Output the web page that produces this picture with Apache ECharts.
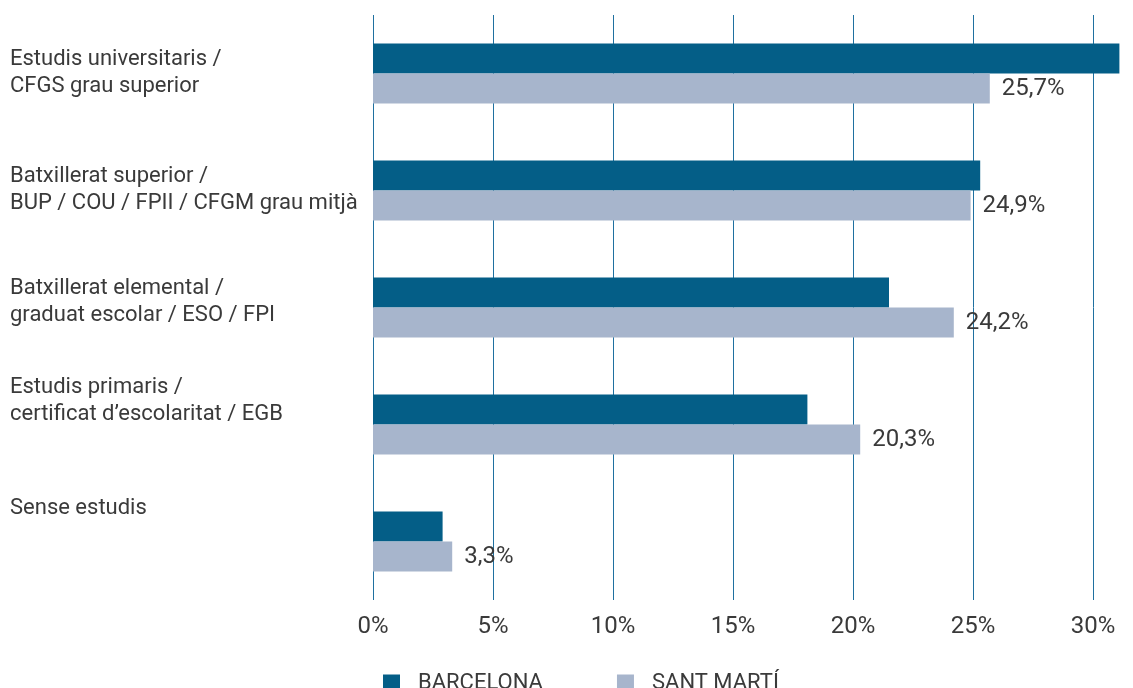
<!DOCTYPE html>
<html>
<head>
<meta charset="utf-8">
<script src="https://cdn.jsdelivr.net/npm/echarts@6/dist/echarts.min.js"></script>
<style>
  html, body { margin: 0; padding: 0; background: #fff; }
  #chart { width: 1133px; height: 688px; }
</style>
</head>
<body>
<div id="chart"></div>
<script>
const categories = [
  'Estudis universitaris /\nCFGS grau superior',
  'Batxillerat superior /\nBUP / COU / FPII / CFGM grau mitjà',
  'Batxillerat elemental /\ngraduat escolar / ESO / FPI',
  'Estudis primaris /\ncertificat d\u2019escolaritat / EGB',
  'Sense estudis'
]
const barcelona = [31.1, 25.3, 21.5, 18.1, 2.9]
const santMarti = [25.7, 24.9, 24.2, 20.3, 3.3]
const xTicks = [0, 5, 10, 15, 20, 25, 30]

// label shift per category (the source places labels a bit above the band centre)
const labelLift = [2, 2, 12, 48, 67]

const font = 'Roboto, "Noto Sans", sans-serif'
const rich = {}
labelLift.forEach((h, i) => {
  rich['g' + i] = { lineHeight: h, height: h, fontSize: 1 }
})

const chart = echarts.init(document.getElementById('chart'))
chart.setOption({
  animation: false,
  textStyle: { fontFamily: font },
  grid: { left: 373, right: 40, top: 15, bottom: 88, containLabel: false },
  legend: {
    left: 383,
    top: 672,
    padding: 0,
    icon: 'rect',
    itemWidth: 17,
    itemHeight: 17,
    itemGap: 74,
    textStyle: { fontSize: 22, color: '#3a3a3a', padding: [0, 0, 0, 13], fontFamily: font },
    data: ['BARCELONA', 'SANT MARTÍ']
  },
  xAxis: {
    type: 'value',
    min: xTicks[0],
    max: xTicks[xTicks.length - 1],
    interval: 5,
    axisLine: { show: false },
    axisTick: { show: false },
    splitLine: { show: true, lineStyle: { color: '#1f70a0', width: 1, opacity: 1 } },
    axisLabel: {
      margin: 15,
      fontSize: 24,
      color: '#3a3a3a',
      formatter: v => v + '%'
    }
  },
  yAxis: {
    type: 'category',
    inverse: true,
    data: categories,
    axisLine: { show: false },
    axisTick: { show: false },
    splitLine: { show: false },
    axisLabel: {
      align: 'left',
      margin: 363,
      fontSize: 22,
      lineHeight: 27,
      color: '#3a3a3a',
      formatter: (v, i) => v + '\n{g' + i + '| }',
      rich: rich
    }
  },
  series: [
    {
      name: 'BARCELONA',
      type: 'bar',
      data: barcelona,
      barWidth: 30,
      barGap: '0%',
      clip: false,
      itemStyle: { color: '#045e87' }
    },
    {
      name: 'SANT MARTÍ',
      type: 'bar',
      data: santMarti,
      barWidth: 30,
      clip: false,
      itemStyle: { color: '#a7b5cc' },
      label: {
        show: true,
        position: 'right',
        distance: 12,
        fontSize: 24,
        color: '#3a3a3a',
        formatter: p => p.value.toFixed(1).replace('.', ',') + '%'
      }
    }
  ]
})
</script>
</body>
</html>
